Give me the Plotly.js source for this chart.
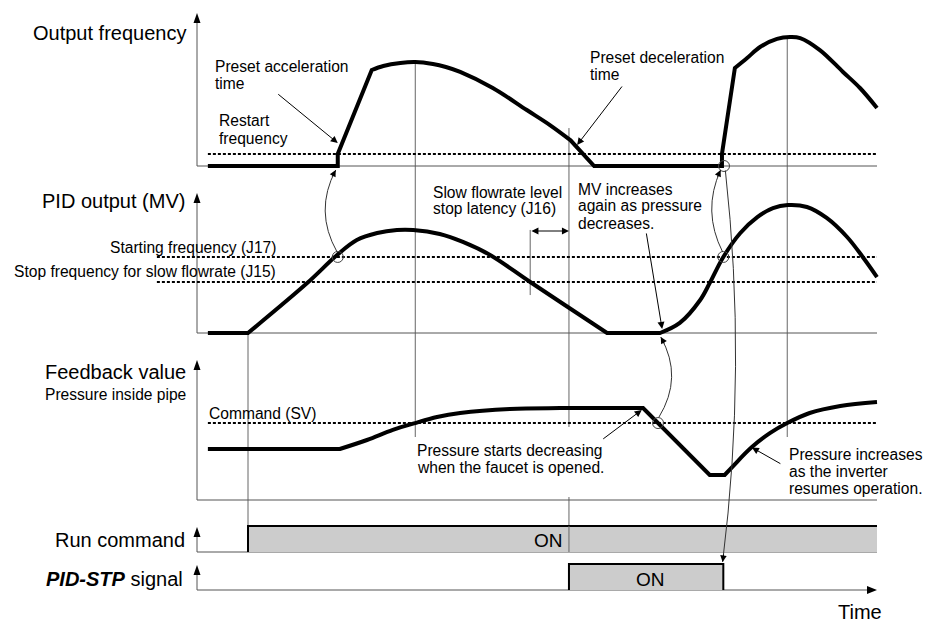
<!DOCTYPE html>
<html><head><meta charset="utf-8">
<script src="https://cdn.plot.ly/plotly-3.0.1.min.js"></script>
<style>html,body{margin:0;padding:0;background:#fff}</style>
</head><body><div id="chart" style="width:926px;height:624px"></div>
<script>
// ---------------- DATA (time in % of time window, levels in arbitrary % units) ----------------
// Output frequency
const tFreq = [1.6,20.7,20.7,25.7,27.4,29.9,32.1,34.7,36.6,38.7,43.5,48.5,51.9,54.9,58.4,77.2,77.2,79.1,80.9,82.8,85.3,87.2,88.7,91.6,95.0,97.5,100];
const vFreq = [0,0,8,64,66.7,68.7,69.3,68,66,62.7,52,37.3,27.3,17.3,0,0,8,65.3,72,79.3,84.7,86,85.3,77.3,62.7,52,38.7];
// PID output (MV)
const tMV = [1.6,7.5,16.2,20.6,23.5,26.5,29.4,31.8,35.7,39.1,43.1,49.0,60.3,68.1,71.0,74.0,75.4,77.4,79.9,82.4,84.7,86.9,89.7,92.6,95.6,97.9,100];
const vMV = [0,0,33.3,52,62,66.7,68.7,68.7,66,60.7,52,34,0,0,6.7,22,33.3,50.7,66.7,77.3,83.3,85.3,84,76.7,64,50.7,37.3];
// Feedback value (pressure)
const tFB = [1.6,21.0,25.0,28.8,32.1,35.3,38.7,46.0,53.4,65.6,75.4,77.6,79.4,81.6,84.3,86.8,90.1,94.6,100];
const vFB = [34,34,40,46.7,51.3,55.3,58,60.7,61.3,61.3,16.7,16.7,25.3,35.3,44.7,51.3,58,62.7,65.3];
// Reference levels
const restartFreq = 8, startFreqJ17 = 50.7, stopFreqJ15 = 34, commandSV = 51.3;
// Digital signals
const tRun = [7.5,7.5,100], vRun = [0,17.3,17.3];
const tStp = [54.7,54.7,77.4,77.4], vStp = [0,17.3,17.3,0];
// Event times
const tRunOn = 7.5, tPeak1 = 32.1, tStpOn = 54.7, tLatency = 49.0, tPeak2 = 86.8, tEnd = 100;

// ---------------- STYLE: indices of sharp corners (rest is drawn smooth) ----------------
const cornersFreq = [0,1,2,3,13,14,15,16,17];
const cornersMV = [0,1,12,13];
const cornersFB = [0,1,9,10,11,12];

// ---------------- LAYOUT HELPERS ----------------
const W = 926, H = 624, FONT = 'Liberation Sans, Arial, Helvetica, sans-serif';
const T0_PX = 197, PX_PER_T = 6.8, PX_PER_LV = 1.5;
const BASE = {y:166, y2:333, y3:500, y4:552, y5:590};
const TOP = {y:102, y2:93.3, y3:93.3, y4:16.7, y5:16.7};
const paperY = (ax, lv) => 1 - (BASE[ax] - lv*PX_PER_LV)/H;
const tPx = t => T0_PX + t*PX_PER_T;

const layout = {
  width:W, height:H, margin:{l:0,r:0,t:0,b:0}, paper_bgcolor:'#fff', plot_bgcolor:'#fff', showlegend:false,
  font:{family:FONT, color:'#000', size:16},
  xaxis:{domain:[0,1], range:[-T0_PX/PX_PER_T,(W-T0_PX)/PX_PER_T], visible:false, fixedrange:true},
  shapes:[], annotations:[]
};
['y','y2','y3','y4','y5'].forEach((a,i)=>{
  const key = i===0 ? 'yaxis' : 'yaxis'+(i+1);
  layout[key] = {domain:[0,1], range:[(BASE[a]-H)/PX_PER_LV, BASE[a]/PX_PER_LV], visible:false, fixedrange:true};
  if(i>0) layout[key].overlaying = 'y';
});
const S = layout.shapes, A = layout.annotations;

// axes
Object.keys(BASE).forEach(ax=>{
  S.push({type:'line', xref:'x', yref:ax, x0:0, x1:0, y0:0, y1:TOP[ax]-3, line:{color:'#555', width:1}, layer:'below'});
  S.push({type:'line', xref:'x', yref:ax, x0:0, x1:ax==='y5'?tEnd-1:tEnd, y0:0, y1:0, line:{color:'#555', width:1}, layer:'below'});
  S.push({type:'path', xref:'x', yref:ax, xsizemode:'pixel', ysizemode:'pixel', xanchor:0, yanchor:TOP[ax],
          path:'M0,0 L-3.5,-10 L3.5,-10 Z', fillcolor:'#000', line:{width:0}, layer:'above'});
});
S.push({type:'path', xref:'x', yref:'y5', xsizemode:'pixel', ysizemode:'pixel', xanchor:tEnd, yanchor:0,
        path:'M0,0 L-10,4 L-10,-4 Z', fillcolor:'#000', line:{width:0}, layer:'above'});

// vertical guide lines
function vline(t, ax0, lv0, ax1, lv1, layer){
  S.push({type:'line', xref:'x', yref:'paper', x0:t, x1:t, y0:paperY(ax0,lv0), y1:paperY(ax1,lv1), line:{color:'#666', width:1}, layer:layer||'below'});
}
vline(tRunOn,'y2',0,'y4',17.3);
vline(tPeak1,'y',69.3,'y3',42);
vline(tStpOn,'y',25.3,'y3',48.7);
vline(tStpOn,'y3',2,'y4',0);
vline(tStpOn,'y4',0,'y4',17.3,'above');
vline(tPeak2,'y',86,'y3',42);
vline(tLatency,'y2',68.7,'y2',25.3);

// curved connectors
const connectors = [
  {from:[20.6,'y2',54], to:[20.4,'y',-2.7], bulge:-3.3},
  {from:[77.3,'y2',54], to:[77.0,'y',-2.7], bulge:-2.9},
  {from:[77.7,'y',-3], to:[77.3,'y5',18.7], bulge:3.4},
  {from:[67.9,'y3',55], to:[68.2,'y2',-2.7], bulge:3.5}
];
connectors.forEach(c=>{
  const x0=c.from[0], y0=paperY(c.from[1],c.from[2]);
  const x1=c.to[0], y1=paperY(c.to[1],c.to[2]);
  const cx=(x0+x1)/2+c.bulge, cy=(y0+y1)/2;
  S.push({type:'path', xref:'x', yref:'paper', path:`M${x0},${y0} Q${cx},${cy} ${x1},${y1}`, line:{color:'#333', width:1}, layer:'above'});
  const dx=tPx(x1)-tPx(cx), dy=(1-y1)*H-(1-cy)*H, L=Math.hypot(dx,dy);
  A.push({xref:'x', yref:'paper', x:x1, y:y1, ax:-dx/L*9, ay:-dy/L*9, text:'', showarrow:true, arrowhead:2, arrowsize:1.3, arrowwidth:1, arrowcolor:'#000'});
});

// pointer arrows
function pointer(t, ax, lv, dxp, dyp, both){
  const a = {xref:'x', yref:ax, x:t, y:lv, ax:dxp, ay:dyp, text:'', showarrow:true, arrowhead:2, arrowsize:1.4, arrowwidth:1, arrowcolor:'#000'};
  if(both){ a.arrowside='end+start'; a.startarrowhead=2; a.startarrowsize=1.4; }
  A.push(a);
}
pointer(20.7,'y',15.3,-61,-50);
pointer(55.9,'y',14,46,-60);
pointer(68.4,'y2',2.7,-16,-97);
pointer(65.4,'y3',60,-40,30);
pointer(81.6,'y3',35,30,17);
pointer(tStpOn,'y2',68,-39,0,true);

// text labels: [text, px x, px y(center), anchor, size]
const SM = 15.6, LG = 20;
const labels = [
  ['Output frequency',187,33,'right',LG],
  ['PID output (MV)',186,201,'right',LG],
  ['Starting frequency (J17)',277,248,'right',SM],
  ['Stop frequency for slow flowrate (J15)',277,271,'right',SM],
  ['Feedback value',187,372,'right',LG],
  ['Pressure inside pipe',187,394,'right',SM],
  ['Run command',186,540,'right',LG],
  ['<b><i>PID-STP</i></b> signal',184,579,'right',LG],
  ['Preset acceleration',214,67,'left',SM],
  ['time',214,84,'left',SM],
  ['Restart',218,121,'left',SM],
  ['frequency',218,138,'left',SM],
  ['Preset deceleration',589,57,'left',SM],
  ['time',589,74,'left',SM],
  ['Slow flowrate level',432,192,'left',SM],
  ['stop latency (J16)',432,209,'left',SM],
  ['MV increases',577,189,'left',SM],
  ['again as pressure',577,206,'left',SM],
  ['decreases.',577,223,'left',SM],
  ['Command (SV)',208,413,'left',SM],
  ['Pressure starts decreasing',416,450,'left',SM],
  ['when the faucet is opened.',416,467,'left',SM],
  ['Pressure increases',788,454,'left',SM],
  ['as the inverter',788,471,'left',SM],
  ['resumes operation.',788,488,'left',SM],
  ['ON',548,540,'center',19],
  ['ON',650,579,'center',19],
  ['Time',860,612,'center',LG]
];
labels.forEach(l=>A.push({xref:'paper', yref:'paper', x:l[1]/W, y:1-l[2]/H, xanchor:l[3], yanchor:'middle',
  text:l[0], showarrow:false, borderpad:0, font:{family:FONT, size:l[4], color:'#000'}}));

// ---------------- TRACES ----------------
// smooth curve with sharp corners: corner points are repeated so the spline keeps them sharp
function curve(t, v, corners, ax){
  const x=[], y=[];
  t.forEach((ti,i)=>{ x.push(ti); y.push(v[i]); if(corners.includes(i)){ x.push(ti); y.push(v[i]); } });
  return {x, y, yaxis:ax, mode:'lines', line:{color:'#000', width:4, shape:'spline', smoothing:1, simplify:false}};
}
const dashed = {color:'#000', width:2, dash:'3px,2px'};
const circ = {symbol:'circle-open', size:11, color:'#444', line:{width:1}};
const traces = [
  {x:tRun, y:vRun, yaxis:'y4', mode:'lines', fill:'tozeroy', fillcolor:'#cccccc', line:{color:'#000', width:2}},
  {x:tStp, y:vStp, yaxis:'y5', mode:'lines', fill:'toself', fillcolor:'#cccccc', line:{color:'#000', width:2}},
  {x:[tFreq[0],tEnd], y:[restartFreq,restartFreq], yaxis:'y', mode:'lines', line:dashed},
  {x:[-5.9,tEnd], y:[startFreqJ17,startFreqJ17], yaxis:'y2', mode:'lines', line:dashed},
  {x:[-5.9,tEnd], y:[stopFreqJ15,stopFreqJ15], yaxis:'y2', mode:'lines', line:dashed},
  {x:[tFB[0],tEnd], y:[commandSV,commandSV], yaxis:'y3', mode:'lines', line:dashed},
  curve(tFreq, vFreq, cornersFreq, 'y'),
  curve(tMV, vMV, cornersMV, 'y2'),
  curve(tFB, vFB, cornersFB, 'y3'),
  {x:[20.7,77.4], y:[startFreqJ17,startFreqJ17], yaxis:'y2', mode:'markers', marker:circ},
  {x:[77.5], y:[0], yaxis:'y', mode:'markers', marker:circ},
  {x:[67.8], y:[commandSV], yaxis:'y3', mode:'markers', marker:circ}
];
traces.forEach(t=>{t.hoverinfo='skip'; t.showlegend=false; t.xaxis='x';});
Plotly.newPlot('chart', traces, layout, {displayModeBar:false, staticPlot:true});
</script></body></html>
